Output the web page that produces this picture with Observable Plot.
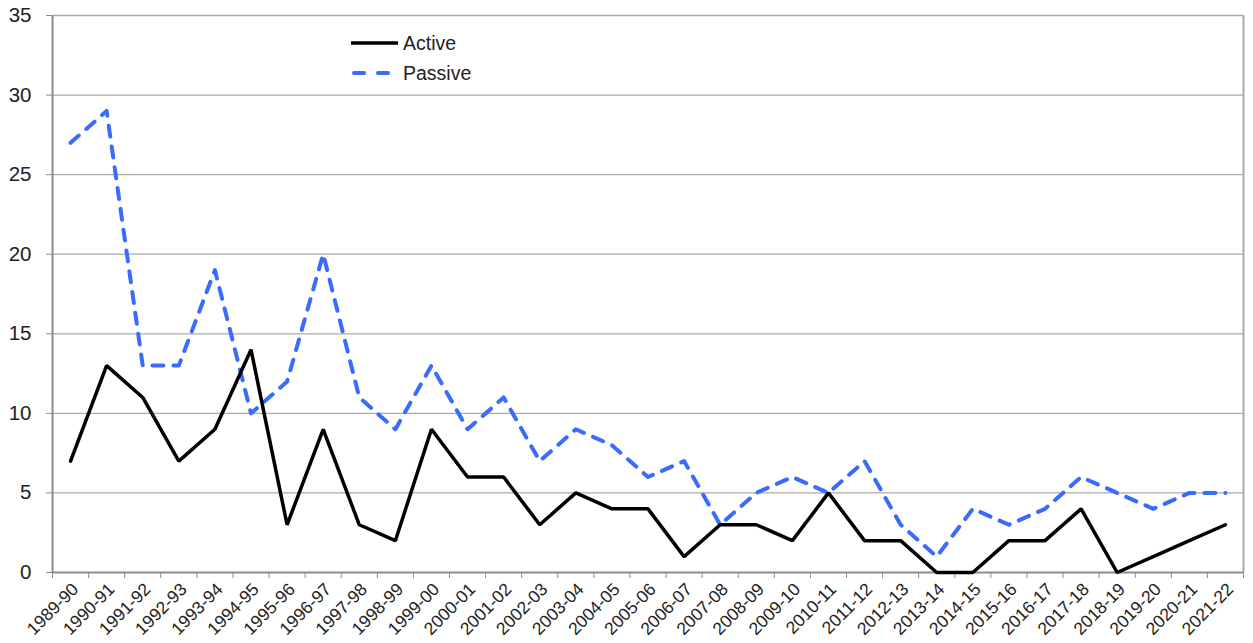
<!DOCTYPE html>
<html>
<head>
<meta charset="utf-8">
<script src="https://cdn.jsdelivr.net/npm/d3@7"></script>
<script src="https://cdn.jsdelivr.net/npm/@observablehq/plot@0.6"></script>
<style>
  html, body { margin: 0; padding: 0; background: #fff; }
  #chart { width: 1253px; height: 643px; }
</style>
</head>
<body>
<div id="chart"></div>
<script>
const seasons = ["1989-90","1990-91","1991-92","1992-93","1993-94","1994-95","1995-96","1996-97","1997-98","1998-99","1999-00","2000-01","2001-02","2002-03","2003-04","2004-05","2005-06","2006-07","2007-08","2008-09","2009-10","2010-11","2011-12","2012-13","2013-14","2014-15","2015-16","2016-17","2017-18","2018-19","2019-20","2020-21","2021-22"];
const active  = [7,13,11,7,9,14,3,9,3,2,9,6,6,3,5,4,4,1,3,3,2,5,2,2,0,0,2,2,4,0,1,2,3];
const passive = [27,29,13,13,19,10,12,20,11,9,13,9,11,7,9,8,6,7,3,5,6,5,7,3,1,4,3,4,6,5,4,5,5];
const yTicks = [0,5,10,15,20,25,30,35];
const seriesNames = ["Active","Passive"];

const rows = seasons.map((s, i) => ({i, season: s, active: active[i], passive: passive[i]}));
const boundaries = d3.range(seasons.length + 1).map(i => i - 0.5);

const FONT = "'Liberation Sans', Arial, Helvetica, sans-serif";
const BLUE = "#3a6bff";

const chart = Plot.plot({
  width: 1253,
  height: 643,
  marginLeft: 52,
  marginRight: 10,
  marginTop: 15,
  marginBottom: 71,
  style: {fontFamily: FONT, background: "#fff", color: "#222"},
  x: {type: "linear", domain: [-0.5, seasons.length - 0.5]},
  y: {domain: [0, 35]},
  marks: [
    Plot.gridY(yTicks.filter(d => d > 0), {stroke: "#aaaaaa", strokeOpacity: 1, strokeWidth: 1.3}),
    Plot.ruleX([seasons.length - 0.5], {stroke: "#aaaaaa", strokeWidth: 2}),
    Plot.ruleX([-0.5], {stroke: "#8c8c8c", strokeWidth: 2}),
    Plot.ruleY([0], {stroke: "#8c8c8c", strokeWidth: 2}),
    Plot.axisY({ticks: yTicks, tickSize: 6, tickPadding: 15, fontSize: 20.5, stroke: "#8c8c8c", fill: "#222", label: null}),
    Plot.axisX({ticks: boundaries, tickSize: 6, tickFormat: () => "", stroke: "#8c8c8c", label: null}),
    Plot.axisX({ticks: d3.range(seasons.length), tickSize: 0, tickFormat: i => seasons[i], tickRotate: -45, tickPadding: 14, dx: 5, fontSize: 17.5, fill: "#222", label: null}),
    Plot.lineY(rows, {x: "i", y: "passive", stroke: BLUE, strokeWidth: 4, strokeDasharray: "11,10", strokeLinecap: "round", strokeLinejoin: "round"}),
    Plot.lineY(rows, {x: "i", y: "active", stroke: "#000", strokeWidth: 3.5, strokeLinejoin: "miter"})
  ]
});

document.getElementById("chart").appendChild(chart);

// legend
const svg = d3.select(chart);
const leg = svg.append("g").attr("font-family", FONT).attr("font-size", 19.5).attr("fill", "#222").attr("text-anchor", "start");
const legendItems = [
  {name: seriesNames[0], stroke: "#000", width: 3.5, dash: null, y: 43},
  {name: seriesNames[1], stroke: BLUE, width: 4, dash: "10,14", y: 73}
];
legendItems.forEach(d => {
  leg.append("line").attr("x1", d.dash ? 354 : 351).attr("x2", 398).attr("y1", d.y).attr("y2", d.y)
    .attr("stroke", d.stroke).attr("stroke-width", d.width)
    .attr("stroke-dasharray", d.dash).attr("stroke-linecap", d.dash ? "round" : "butt");
  leg.append("text").attr("x", 403).attr("y", d.y).attr("dy", "0.35em").attr("text-anchor", "start").text(d.name);
});
</script>
</body>
</html>
